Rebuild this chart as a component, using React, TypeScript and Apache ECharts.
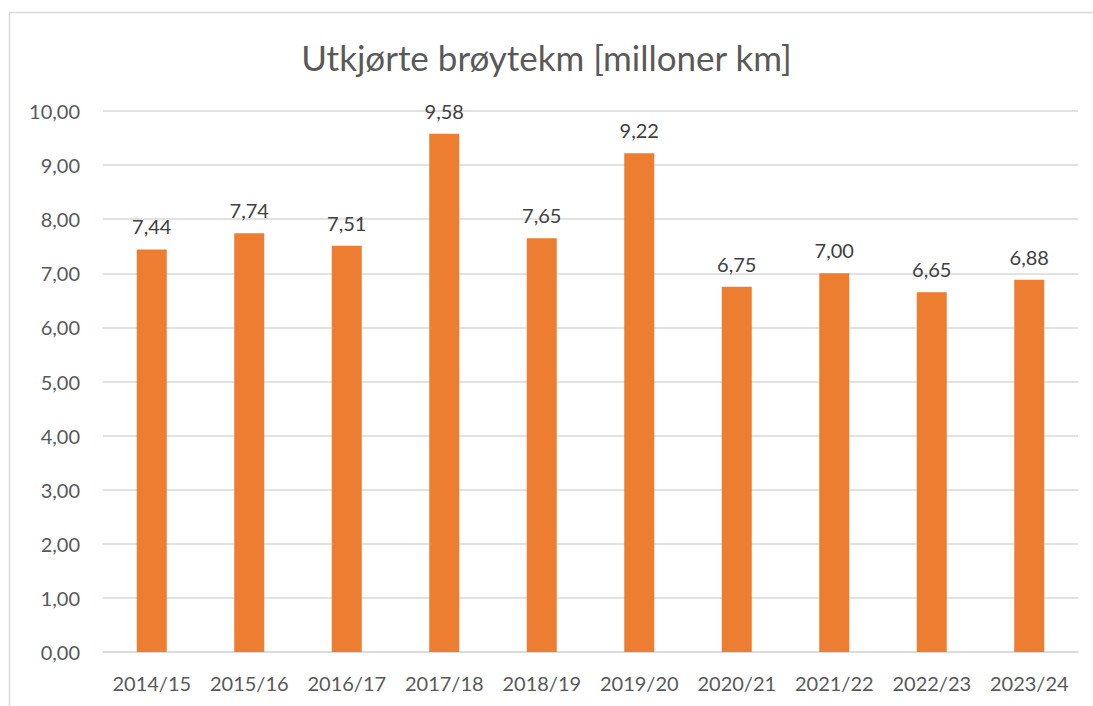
import React, { useEffect, useRef } from "react";
import * as echarts from "echarts";

const categories = ["2014/15", "2015/16", "2016/17", "2017/18", "2018/19", "2019/20", "2020/21", "2021/22", "2022/23", "2023/24"];
const values = [7.44, 7.74, 7.51, 9.58, 7.65, 9.22, 6.75, 7.0, 6.65, 6.88];
const titleText = "Utkjørte brøytekm [milloner km]";

const FONT = "Lato, 'Liberation Sans', sans-serif";
const fmt = (v: number) => v.toFixed(2).replace(".", ",");

export default function App() {
  const ref = useRef<HTMLDivElement>(null);
  useEffect(() => {
    const chart = echarts.init(ref.current!, null, { renderer: "svg" });
    chart.setOption({
      animation: false,
      backgroundColor: "#ffffff",
      textStyle: { fontFamily: FONT },
      title: {
        text: titleText,
        left: "center",
        top: 34,
        textStyle: { fontFamily: FONT, fontSize: 35, fontWeight: "normal", color: "#595959" },
      },
      graphic: [
        {
          type: "rect",
          shape: { x: 9.5, y: 12.5, width: 1100, height: 720 },
          style: { fill: "none", stroke: "#D9D9D9", lineWidth: 1.5 },
          silent: true,
        },
      ],
      grid: { left: 103, right: 15, top: 111, bottom: 54 },
      xAxis: {
        type: "category",
        data: categories,
        axisLine: { lineStyle: { color: "#D9D9D9", width: 1.5 } },
        axisTick: { show: false },
        axisLabel: { color: "#595959", fontSize: 20, margin: 21, interval: 0, fontFamily: FONT },
      },
      yAxis: {
        type: "value",
        min: 0,
        max: 10,
        interval: 1,
        axisLine: { show: false },
        axisTick: { show: false },
        splitLine: { lineStyle: { color: "#D9D9D9", width: 1.5 } },
        axisLabel: { color: "#595959", fontSize: 20, margin: 23, fontFamily: FONT, formatter: (v: number) => fmt(v) },
      },
      series: [
        {
          type: "bar",
          data: values,
          barWidth: 30,
          itemStyle: { color: "#ED7D31" },
          label: {
            show: true,
            position: "top",
            distance: 13,
            color: "#404040",
            fontSize: 20,
            fontFamily: FONT,
            formatter: (p: any) => fmt(p.value),
          },
        },
      ],
    });
    return () => chart.dispose();
  }, []);
  return <div ref={ref} style={{ position: "absolute", left: 0, top: 0, width: 1093, height: 706 }} />;
}
